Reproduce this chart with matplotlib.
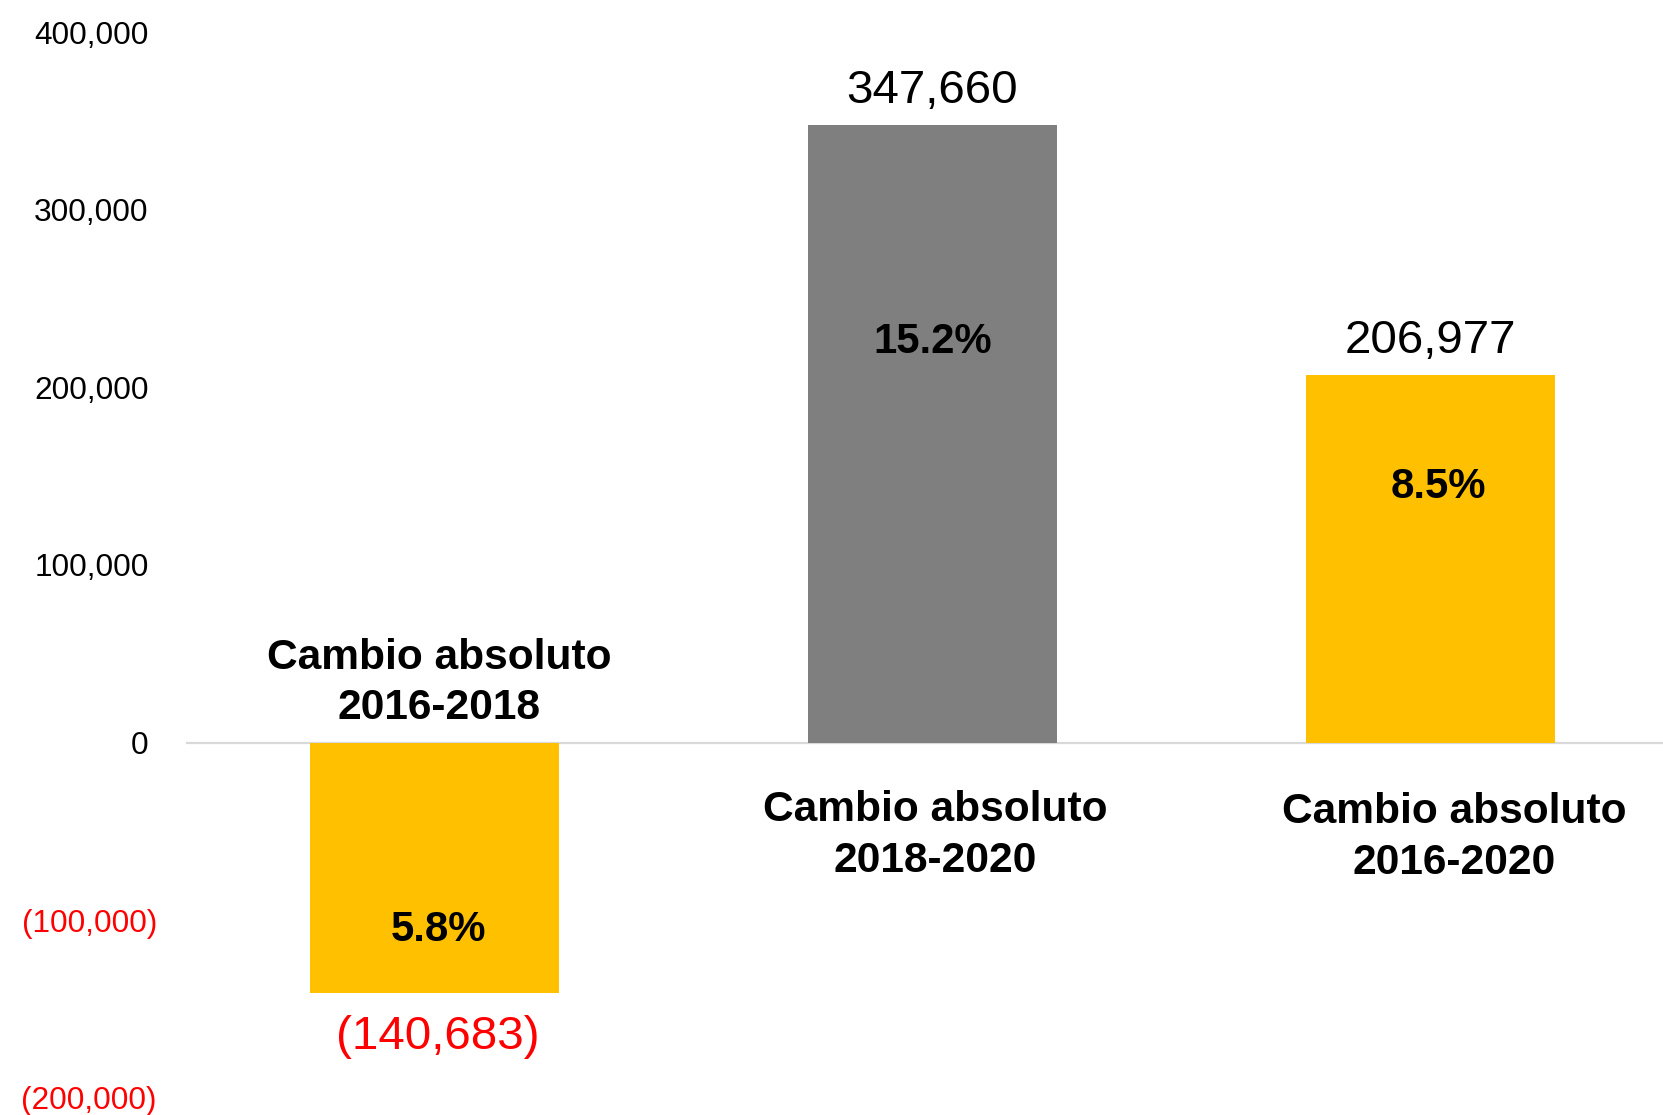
import matplotlib
matplotlib.use("Agg")
import matplotlib.pyplot as plt

# Data
categories = ["Cambio absoluto\n2016-2018", "Cambio absoluto\n2018-2020", "Cambio absoluto\n2016-2020"]
values = [-140683, 347660, 206977]
pct_labels = ["5.8%", "15.2%", "8.5%"]
bar_colors = ["#FFC000", "#7F7F7F", "#FFC000"]
yticks = [-200000, -100000, 0, 100000, 200000, 300000, 400000]

plt.rcParams['font.family'] = ['Liberation Sans', 'DejaVu Sans']

W, H = 1663, 1115
fig = plt.figure(figsize=(W / 100, H / 100), dpi=100)
ax_left = 185.6 / W
ax_bottom = 1 - 1098 / H
ax_top = 1 - 32 / H
ax = fig.add_axes([ax_left, ax_bottom, 1 - ax_left, ax_top - ax_bottom])

x = list(range(len(values)))
ax.bar(x, values, width=0.5, color=bar_colors, zorder=2)
ax.axhline(0, color="#D9D9D9", lw=1.6, zorder=1)

ax.set_xlim(-0.5, 2.467)
ax.set_ylim(-200000, 400000)
for s in ax.spines.values():
    s.set_visible(False)
ax.set_xticks([])
ax.set_yticks(yticks)


def fmt(v):
    return f"({abs(v):,})" if v < 0 else f"{v:,}"


ax.set_yticklabels([fmt(v) for v in yticks])
ax.tick_params(axis='y', length=0, labelsize=22.8)
for t, v in zip(ax.yaxis.get_major_ticks(), yticks):
    if v < 0:
        t.set_pad(20.6)
        t.label1.set_color("#FF0000")
    else:
        t.set_pad(26.7)
        t.label1.set_color("black")

# value labels
for i, v in enumerate(values):
    if v < 0:
        ax.text(i + 0.006, v - 25200, fmt(v), ha='center', va='center', fontsize=34.2, color="#FF0000")
    else:
        ax.text(i, v + 19200, fmt(v), ha='center', va='center', fontsize=34.2, color="black")

# percentage labels
pct_pos = [(0.007, -105700), (1.0, 225400), (2.015, 144000)]
for (px, py), lab in zip(pct_pos, pct_labels):
    ax.text(px, py, lab, ha='center', va='center', fontsize=30.2, fontweight='bold')

# category labels
cat_pos = [(0.009, 33700), (1.006, -52300), (2.048, -53400)]
for (cx, cy), lab in zip(cat_pos, categories):
    ax.text(cx, cy, lab, ha='center', va='center', fontsize=30.6, fontweight='bold',
            linespacing=1.33, multialignment='center')

fig.savefig("out.png", dpi=100)
